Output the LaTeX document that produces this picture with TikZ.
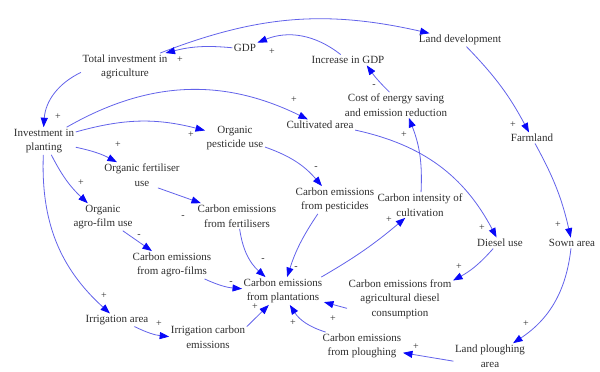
\documentclass[tikz,border=0pt]{standalone}
\usepackage{fontspec}
\setmainfont{Liberation Serif}
\usepackage{tikz}
\usepackage{xcolor}
\usetikzlibrary{arrows.meta,positioning}
\definecolor{ink}{HTML}{2E2E2E}
\definecolor{linkblue}{HTML}{6262EA}
\definecolor{tipblue}{HTML}{0808F8}
\tikzset{
  varnode/.style={text=ink,align=center,inner sep=1.5pt,
                  font=\rmfamily\fontsize{11}{14.5}\selectfont},
  polar/.style={text=ink,inner sep=0pt,font=\rmfamily\fontsize{10}{11}\selectfont},
  linkarr/.style={-{Triangle[length=9.5pt,width=7pt,color=tipblue]},
                  draw=linkblue,line width=0.8pt}
}

\begin{document}
\begin{tikzpicture}[x=1pt,y=-1pt]
  \useasboundingbox (0,0) rectangle (600,372);
  \node[varnode] (totinv) at (125,67) {Total investment in\\agriculture};
  \node[varnode] (gdp) at (245,48) {GDP};
  \node[varnode] (incgdp) at (348,60) {Increase in GDP};
  \node[varnode] (landdev) at (460,40) {Land development};
  \node[varnode] (costsave) at (396,105) {Cost of energy saving\\and emission reduction};
  \node[varnode] (farmland) at (532,138) {Farmland};
  \node[varnode] (cultarea) at (320,125) {Cultivated area};
  \node[varnode] (invplant) at (44,141) {Investment in\\planting};
  \node[varnode] (pestuse) at (235,138) {Organic\\pesticide use};
  \node[varnode] (fertuse) at (142,175) {Organic fertiliser\\use};
  \node[varnode] (cepest) at (335,200) {Carbon emissions\\from pesticides};
  \node[varnode] (cintens) at (420,205) {Carbon intensity of\\cultivation};
  \node[varnode] (cefert) at (237,216) {Carbon emissions\\from fertilisers};
  \node[varnode] (filmuse) at (103,217) {Organic\\agro-film use};
  \node[varnode] (dieseluse) at (500,243) {Diesel use};
  \node[varnode] (sownarea) at (572,243) {Sown area};
  \node[varnode] (cefilm) at (172,265) {Carbon emissions\\from agro-films};
  \node[varnode] (ceplant) at (283,291) {Carbon emissions\\from plantations};
  \node[varnode] (cediesel) at (400,299) {Carbon emissions from\\agricultural diesel\\consumption};
  \node[varnode] (irrarea) at (117,320) {Irrigation area};
  \node[varnode] (irrce) at (208,337) {Irrigation carbon\\emissions};
  \node[varnode] (ceplough) at (362,346) {Carbon emissions\\from ploughing};
  \node[varnode] (ploughar) at (490,356) {Land ploughing\\area};

  \draw[linkarr] (totinv) to[bend left=17] (landdev);
  \draw[linkarr] (gdp) to[bend right=10] (totinv);
  \draw[linkarr] (incgdp) to[bend right=30] (gdp);
  \draw[linkarr] (costsave.117) to[bend left=5] (incgdp.-16);
  \draw[linkarr] (totinv.187) to[bend right=30] (invplant);
  \draw[linkarr] (invplant) to[bend left=28] (cultarea);
  \draw[linkarr] (invplant) to[bend left=15] (pestuse);
  \draw[linkarr] (invplant) to[bend left=8] (fertuse);
  \draw[linkarr] (invplant) to[bend right=10] (filmuse);
  \draw[linkarr] (invplant) to[bend right=25] (irrarea);
  \draw[linkarr] (pestuse) to[bend left=15] (cepest);
  \draw[linkarr] (fertuse.-39) -- (cefert);
  \draw[linkarr] (filmuse) -- (cefilm);
  \draw[linkarr] (cefert) to[bend right=20] (ceplant);
  \draw[linkarr] (cepest.219) to[bend right=8] (ceplant);
  \draw[linkarr] (cefilm) to[bend right=10] (ceplant);
  \draw[linkarr] (ceplant.20) to[bend right=5] (cintens);
  \draw[linkarr] (cintens) to[bend right=12] (costsave.-45);
  \draw[linkarr] (cultarea) to[bend left=25] (dieseluse);
  \draw[linkarr] (landdev) to[bend left=8] (farmland);
  \draw[linkarr] (farmland) to[bend left=8] (sownarea);
  \draw[linkarr] (dieseluse) to[bend left=10] (cediesel);
  \draw[linkarr] (cediesel.190) -- (ceplant);
  \draw[linkarr] (sownarea) to[bend left=25] (ploughar);
  \draw[linkarr] (ploughar.188) -- (ceplough);
  \draw[linkarr] (ceplough.159) to[bend left=20] (ceplant);
  \draw[linkarr] (irrarea) to[bend right=10] (irrce);
  \draw[linkarr] (irrce.15) -- (ceplant);

  \node[polar] (sg1) at (180,60) {+};
  \node[polar] (sg2) at (272,52) {+};
  \node[polar] (sg3) at (374,86) {-};
  \node[polar] (sg4) at (58,117) {+};
  \node[polar] (sg5) at (294,100) {+};
  \node[polar] (sg6) at (191,135) {+};
  \node[polar] (sg7) at (118,145) {+};
  \node[polar] (sg8) at (81,183) {+};
  \node[polar] (sg9) at (104,296) {+};
  \node[polar] (sg10) at (316,168) {-};
  \node[polar] (sg11) at (183,217) {-};
  \node[polar] (sg12) at (139,236) {-};
  \node[polar] (sg13) at (263,260) {-};
  \node[polar] (sg14) at (296,268) {-};
  \node[polar] (sg15) at (231,283) {-};
  \node[polar] (sg16) at (389,220) {+};
  \node[polar] (sg17) at (404,135) {+};
  \node[polar] (sg18) at (482,228) {+};
  \node[polar] (sg19) at (513,125) {+};
  \node[polar] (sg20) at (558,225) {+};
  \node[polar] (sg21) at (459,267) {+};
  \node[polar] (sg22) at (333,319) {+};
  \node[polar] (sg23) at (526,324) {+};
  \node[polar] (sg24) at (416,347) {+};
  \node[polar] (sg25) at (293,323) {+};
  \node[polar] (sg26) at (159,324) {+};
  \node[polar] (sg27) at (255,307) {+};
\end{tikzpicture}
\end{document}
